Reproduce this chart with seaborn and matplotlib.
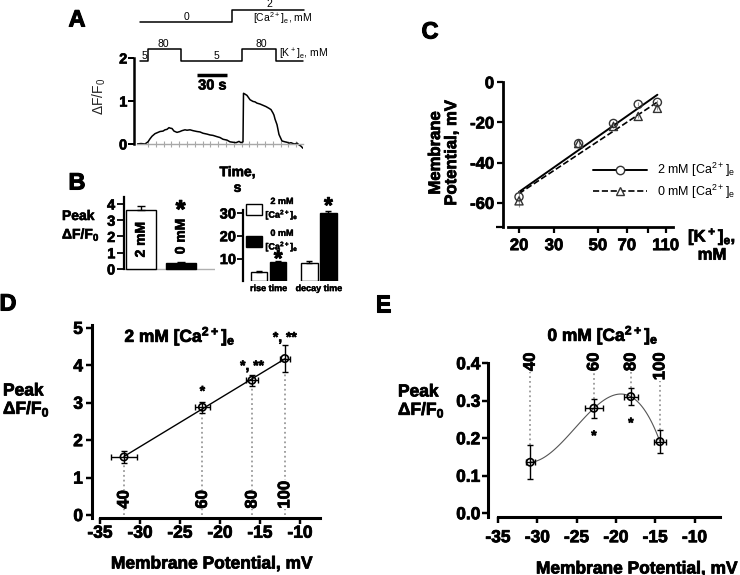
import numpy as np
import pandas as pd
import seaborn as sns
import matplotlib.pyplot as plt
import matplotlib.patheffects as pe
from matplotlib.text import Text
from matplotlib.patches import Patch
from matplotlib.lines import Line2D
from matplotlib.ticker import NullLocator

# ---- A: calcium trace (time, s / peak dF/F0) and bath protocol ----
trace_t = [0, 4, 8, 11, 13, 15, 18, 20, 23, 26, 28, 30, 32, 33, 35, 37, 40, 43, 45, 48,
           50, 53, 56, 60, 63, 66, 70, 73, 76, 80, 83, 86, 90, 93, 96, 99, 102, 104, 106, 106.5,
           108, 110, 113, 116, 118, 120, 123, 126, 129, 132, 134, 135, 136, 137, 138, 140, 142, 145, 148, 150,
           152, 154, 156, 158, 160, 162, 164, 166]
trace_dff = [0.0, 0.01, 0.0, 0.05, 0.12, 0.18, 0.24, 0.26, 0.29, 0.3, 0.33, 0.34, 0.38, 0.37, 0.36, 0.3, 0.27, 0.29, 0.31, 0.33,
             0.32, 0.33, 0.31, 0.29, 0.28, 0.25, 0.23, 0.21, 0.2, 0.17, 0.15, 0.11, 0.09, 0.05, 0.04, 0.03, 0.06, 0.03, 0.05, 1.18,
             1.16, 1.13, 1.03, 0.99, 0.98, 0.95, 0.93, 0.9, 0.87, 0.83, 0.8, 0.76, 0.72, 0.67, 0.58, 0.45, 0.22, 0.07, 0.05, 0.04,
             0.02, 0.03, 0.01, 0.0, 0.02, -0.02, -0.05, -0.1]
k_step_t = [3, 11, 44, 105, 139, 166]
k_step_mM = [5, 80, 5, 80, 5, 5]
ca_step_t = [3, 95, 167]
ca_step_mM = [0, 2, 2]
scalebar_s = 30

# ---- B: peak amplitude and kinetics ----
ca_levels = ["2 mM", "0 mM"]
peak_vals = [3.6, 0.37]
peak_err = [0.28, 0.03]
time_phase = ["rise time", "rise time", "decay time", "decay time"]
time_ca = ["2 mM", "0 mM", "2 mM", "0 mM"]
time_vals = [4.2, 8.6, 7.9, 30.1]
time_err = [0.4, 0.2, 0.8, 0.8]

# ---- C: membrane potential vs [K+]e ----
k_conc = [20, 40, 60, 80, 100]
vm_2ca = [-57, -30.5, -20.5, -11, -10]
vm_2ca_err = [3, 1.5, 1, 1, 1.2]
vm_0ca = [-59, -30.5, -22, -17, -13]
vm_0ca_err = [3, 1, 1, 1, 1]

# ---- D / E: peak dF/F0 vs membrane potential ----
k_labels = ["40", "60", "80", "100"]
vm_d = [-32, -22.2, -16, -11.9]
vm_d_err = [1.6, 0.9, 0.8, 0.6]
peak_d = [1.55, 2.88, 3.6, 4.18]
peak_d_err = [0.17, 0.15, 0.14, 0.37]
stars_d = ["", "*", "*, **", "*, **"]
vm_e = [-30.9, -22.8, -18.1, -14.4]
vm_e_err = [0.6, 1.1, 0.85, 0.75]
peak_e = [0.136, 0.28, 0.311, 0.191]
peak_e_err = [0.045, 0.025, 0.023, 0.03]
stars_e = ["", "*", "*", ""]

sns.set_theme(style="ticks")
plt.rcParams["font.family"] = ["Liberation Sans", "DejaVu Sans"]
plt.rcParams["font.weight"] = "bold"
plt.rcParams["mathtext.default"] = "regular"
plt.rcParams["axes.unicode_minus"] = False
for key in ["axes.edgecolor", "xtick.color", "ytick.color", "text.color"]:
    plt.rcParams[key] = "black"

W, H = 740, 575
fig = plt.figure(figsize=(W / 100, H / 100), dpi=100)
BOLD = {"fontweight": "bold"}


def add_ax(x0, y0, x1, y1):
    # axes placed by pixel box, origin top left
    return fig.add_axes([x0 / W, 1 - y1 / H, (x1 - x0) / W, (y1 - y0) / H])


def ftext(x, y, s, **kw):
    kw.setdefault("ha", "center")
    kw.setdefault("va", "center")
    return fig.text(x / W, 1 - y / H, s, **kw)


def frame(ax, lw, size, tick_len, pad):
    sns.despine(ax=ax)
    for side in ("left", "bottom"):
        ax.spines[side].set_linewidth(lw)
    ax.tick_params(width=lw * 0.8, length=tick_len, labelsize=size, pad=pad, direction="out")
    ax.set_xlabel("")
    ax.set_ylabel("")


def num_labels(vals, fmt="{:g}"):
    return [fmt.format(v) for v in vals]


# ================= A =================
axA = add_ax(137, 0, 303, 150)
sns.lineplot(x=trace_t, y=trace_dff, ax=axA, color="black", lw=1.1, sort=False, estimator=None)
axA.set_xlim(0, 166)
axA.set_ylim(-0.14, 3.35)
frame(axA, 1.8, 10.5, 4, 1)
axA.spines["left"].set_position(("outward", 2))
axA.spines["left"].set_bounds(0, 2)
axA.spines["bottom"].set_position(("data", 0))
axA.spines["bottom"].set_color("#a8a8a8")
axA.spines["bottom"].set_linewidth(1)
axA.set_yticks([0, 1, 2], num_labels([0, 1, 2]), **BOLD)
axA.set_xticks(np.arange(11, 166, 7.8))
axA.tick_params(axis="x", colors="#a8a8a8", length=4, width=0.8, direction="inout", labelbottom=False)
axA.hlines(1.6, 60, 60 + scalebar_s, color="black", lw=2.5)
axA.text(75.5, 1.36, f"{scalebar_s} s", ha="center", va="center", fontsize=10.5)

axK = add_ax(137, 49, 303, 61)
sns.lineplot(x=k_step_t, y=k_step_mM, ax=axK, color="black", lw=1.1, drawstyle="steps-post",
             estimator=None, sort=False)
axK.set_xlim(0, 166)
axK.set_ylim(5, 80)
axK.axis("off")
for lab_t, lab_k in zip([7.5, 26.5, 79, 124.5], k_step_mM[:4]):
    axK.text(lab_t, lab_k, str(lab_k), ha="center", va="bottom", fontsize=7.5, fontweight="normal")
axK.annotate("[K$^+$]$_e$, mM", xy=(142, 5), xytext=(0, 2.5), textcoords="offset points",
             ha="left", va="baseline", fontsize=7.5, fontweight="normal")

axCa = add_ax(137, 10, 303, 22)
sns.lineplot(x=ca_step_t, y=ca_step_mM, ax=axCa, color="black", lw=1.1, drawstyle="steps-post",
             estimator=None, sort=False)
axCa.set_xlim(0, 166)
axCa.set_ylim(0, 2)
axCa.axis("off")
axCa.text(49.5, 0, str(ca_step_mM[0]), ha="center", va="bottom", fontsize=7.5, fontweight="normal")
axCa.annotate(str(ca_step_mM[1]), xy=(132.5, 2), xytext=(0, 0.5), textcoords="offset points",
              ha="center", va="bottom", fontsize=7.5, fontweight="normal")
axCa.annotate("[Ca$^{2+}$]$_e$, mM", xy=(116, 0), xytext=(0, 0), textcoords="offset points",
              ha="left", va="baseline", fontsize=7.5, fontweight="normal")
for a in (axK, axCa):
    for line in a.lines:
        line.set_clip_on(False)

ftext(99, 96, "ΔF/F$_0$", rotation=90, fontsize=10, fontweight="normal", color="#222222")

# ================= B (peak) =================
axB1 = add_ax(125, 190, 215, 272)
axB1.axhline(0, color="#b0b0b0", lw=1, zorder=0)
sns.barplot(x=ca_levels, y=peak_vals, hue=ca_levels, palette=["white", "black"], edgecolor="black",
            linewidth=1, width=0.75, errorbar=None, legend=False, ax=axB1)
axB1.errorbar(x=range(len(ca_levels)), y=peak_vals, yerr=[[0] * len(peak_err), peak_err], fmt="none",
              ecolor="black", elinewidth=1, capsize=3, capthick=1)
axB1.set_xlim(-0.39, 1.86)
axB1.set_ylim(-0.185, 4.86)
frame(axB1, 1.6, 10.5, 5, 1)
axB1.spines["bottom"].set_visible(False)
axB1.spines["left"].set_position(("outward", 1))
axB1.spines["left"].set_bounds(0, 4.45)
axB1.set_xticks([])
axB1.set_yticks(range(5), num_labels(range(5)), **BOLD)
axB1.text(0, 1.8, "2 mM", rotation=90, ha="center", va="center", fontsize=10)
axB1.text(1, 2.0, "0 mM", rotation=90, ha="center", va="center", fontsize=10)
axB1.text(1, 3.6, "*", ha="center", va="center", fontsize=18)
ftext(62, 226, "Peak\nΔF/F$_0$", ha="left", fontsize=10, linespacing=1.2)

# ================= B (kinetics) =================
time_df = pd.DataFrame({"phase": time_phase, "ca": time_ca, "t": time_vals, "err": time_err})
axB2 = add_ax(243, 190, 345, 281.3)
sns.barplot(data=time_df, x="phase", y="t", hue="ca", hue_order=ca_levels, palette=["white", "black"],
            edgecolor="black", linewidth=1, width=0.76, gap=0.14, errorbar=None, legend=False, ax=axB2)
black_x = []
for cont, level in zip(axB2.containers, ca_levels):
    sub = time_df[time_df["ca"] == level]
    xs = [b.get_x() + b.get_width() / 2 for b in cont]
    axB2.errorbar(xs, sub["t"], yerr=[np.zeros(len(sub)), sub["err"]], fmt="none", ecolor="black",
                  elinewidth=1, capsize=2, capthick=1)
    black_x = xs
axB2.text(black_x[0], 9.3, "*", ha="center", va="center", fontsize=16)
axB2.text(black_x[1], 32.6, "*", ha="center", va="center", fontsize=16)
axB2.set_xlim(-0.51, 1.52)
axB2.set_ylim(0, 40.1)
frame(axB2, 1.6, 10.5, 4, 1)
axB2.spines["bottom"].set_visible(False)
axB2.spines["left"].set_bounds(0, 31.3)
axB2.set_yticks([10, 20, 30], num_labels([10, 20, 30]), **BOLD)
axB2.set_xticks(range(2), ["rise time", "decay time"], **BOLD)
axB2.tick_params(axis="x", length=0, pad=2, labelsize=6.5)
handles = [Patch(facecolor=c, edgecolor="black", lw=1) for c in ["white", "black"]]
labels = [f"{c}\n[Ca$^{{2+}}$]$_e$" for c in ca_levels]
leg = axB2.legend(handles, labels, loc="upper left", bbox_to_anchor=(246 / W, 1 - 197 / H),
                  bbox_transform=fig.transFigure, frameon=False, fontsize=6.5, handlelength=1.8,
                  handleheight=1.45, handletextpad=0.35, labelspacing=0.8, borderpad=0, borderaxespad=0)
for t in leg.get_texts():
    t.set_multialignment("center")
ftext(237.5, 180, "Time,\ns", fontsize=10, linespacing=1.15)

# ================= C =================
axC = add_ax(503, 75, 673, 227)
axC.set_xscale("log")
sns.regplot(x=k_conc, y=vm_2ca, logx=True, ci=None, scatter=False, color="black",
            line_kws={"lw": 1.4}, ax=axC)
sns.regplot(x=k_conc, y=vm_0ca, logx=True, ci=None, scatter=False, color="black",
            line_kws={"lw": 1.2, "ls": "--"}, ax=axC)
axC.errorbar(k_conc, vm_2ca, yerr=vm_2ca_err, fmt="none", ecolor="#999999", elinewidth=0.8)
axC.errorbar(k_conc, vm_0ca, yerr=vm_0ca_err, fmt="none", ecolor="#999999", elinewidth=0.8)
sns.scatterplot(x=k_conc, y=vm_2ca, marker="o", s=34, facecolor="none", edgecolor="#333333",
                linewidth=1, ax=axC, zorder=4)
sns.scatterplot(x=k_conc, y=vm_0ca, marker="^", s=34, facecolor="none", edgecolor="#333333",
                linewidth=1, ax=axC, zorder=4)
axC.set_xlim(16.6, 119.9)
axC.set_ylim(-71.9, 3.6)
frame(axC, 2, 12, 4.5, 3.5)
axC.spines["left"].set_bounds(-72, 0)
axC.spines["bottom"].set_bounds(17.6, 120)
axC.xaxis.set_minor_locator(NullLocator())
axC.set_xticks([20, 30, 50, 70, 90, 110], ["20", "30", "50", "70", "", "110"], **BOLD)
axC.set_yticks([0, -20, -40, -60], num_labels([0, -20, -40, -60]), **BOLD)
axC.set_yticks([-72], minor=True)
axC.tick_params(axis="y", which="minor", length=5, width=1.6)
axC.tick_params(axis="y", pad=2)
c_handles = [Line2D([], [], color="black", lw=1.4, marker="o", mfc="white", mec="#333333", ms=6),
             Line2D([], [], color="black", lw=1.2, ls="--", marker="^", mfc="white", mec="#333333", ms=6)]
axC.legend(c_handles, ["2 mM [Ca$^{2+}$]$_e$", "0 mM [Ca$^{2+}$]$_e$"], loc="upper left",
           bbox_to_anchor=(593 / W, 1 - 161 / H), bbox_transform=fig.transFigure, frameon=False,
           prop={"size": 9, "weight": "normal"}, handlelength=4.3, handletextpad=0.8,
           labelspacing=0.25, borderpad=0, borderaxespad=0)
ftext(443.5, 153, "Membrane\nPotential, mV", rotation=90, fontsize=12, multialignment="center",
      linespacing=1.1)
ftext(712, 244, "[K$^+$]$_e$,\nmM", fontsize=12, multialignment="center", linespacing=1.0)

# ================= D =================
axD = add_ax(92, 320, 320, 518)
axD.vlines(vm_d, 0, np.array(peak_d) - np.array(peak_d_err), colors="#9a9a9a", linestyles=":", lw=1.3)
sns.regplot(x=vm_d, y=peak_d, ci=None, scatter=False, color="black", line_kws={"lw": 1}, ax=axD)
axD.errorbar(vm_d, peak_d, xerr=vm_d_err, yerr=peak_d_err, fmt="none", ecolor="black",
             elinewidth=1, capsize=2.5, capthick=1)
sns.scatterplot(x=vm_d, y=peak_d, marker="o", s=28, facecolor="none", edgecolor="black",
                linewidth=1.2, ax=axD, zorder=4)
for v, lab, st, y in zip(vm_d, k_labels, stars_d, [0, 3.3, 3.98, 4.74]):
    axD.text(v, 0.17, lab, rotation=90, ha="center", va="bottom", fontsize=12,
             bbox=dict(facecolor="white", edgecolor="none", pad=0.5))
    if st:
        axD.text(v, y, st, ha="center", va="center", fontsize=10)
axD.set_xlim(-36, -7.5)
axD.set_ylim(-0.08, 5.21)
frame(axD, 2.2, 12.5, 4.5, 1)
axD.tick_params(axis="y", pad=2)
axD.spines["left"].set_bounds(-0.08, 5.08)
axD.spines["bottom"].set_bounds(-35, -7.5)
axD.set_yticks(range(6), num_labels(range(6)), **BOLD)
axD.set_xticks(range(-35, -5, 5), num_labels(range(-35, -5, 5)), **BOLD)
ftext(180, 336, "2 mM [Ca$^{2+}$]$_e$", fontsize=12.5)
ftext(3, 401, "Peak\nΔF/F$_0$", ha="left", fontsize=12.5, linespacing=1.1)
ftext(212, 564, "Membrane Potential, mV", fontsize=12.5)

# ================= E =================
axE = add_ax(488, 340, 720, 517)
axE.vlines(vm_e, np.array(peak_e) + np.array(peak_e_err), 0.425, colors="#9a9a9a", linestyles=":", lw=1.3)
sns.regplot(x=vm_e, y=peak_e, order=3, ci=None, scatter=False, color="#555555",
            line_kws={"lw": 0.8}, ax=axE)
axE.errorbar(vm_e, peak_e, xerr=vm_e_err, yerr=peak_e_err, fmt="none", ecolor="black",
             elinewidth=1, capsize=2.5, capthick=1)
sns.scatterplot(x=vm_e, y=peak_e, marker="o", s=28, facecolor="none", edgecolor="black",
                linewidth=1.2, ax=axE, zorder=4)
for v, lab, st, y in zip(vm_e, k_labels, stars_e, [0, 0.206, 0.24, 0]):
    axE.text(v, 0.428, lab, rotation=90, ha="center", va="top", fontsize=12,
             bbox=dict(facecolor="white", edgecolor="none", pad=0.5))
    if st:
        axE.text(v, y, st, ha="center", va="center", fontsize=10)
axE.set_xlim(-36.27, -6.76)
axE.set_ylim(-0.01, 0.462)
frame(axE, 2.2, 12.5, 4.5, 5)
axE.tick_params(axis="y", pad=1)
axE.spines["left"].set_bounds(-0.01, 0.4)
axE.spines["bottom"].set_bounds(-35, -6.8)
e_yt = [0, 0.1, 0.2, 0.3, 0.4]
axE.set_yticks(e_yt, num_labels(e_yt, "{:.1f}"), **BOLD)
axE.set_xticks(range(-35, -5, 5), num_labels(range(-35, -5, 5)), **BOLD)
ftext(603, 335, "0 mM [Ca$^{2+}$]$_e$", fontsize=12.5)
ftext(398, 402, "Peak\nΔF/F$_0$", ha="left", fontsize=12.5, linespacing=1.1)
ftext(637, 569, "Membrane Potential, mV", fontsize=12.5)

# panel letters
for letter, (px, py) in zip("ABCDE", [(77, 20), (77, 183), (430, 32), (8, 304), (383, 305)]):
    ftext(px, py, letter, fontsize=17)

# the original lettering is heavier than Liberation Sans Bold: thicken bold texts a little
for txt in fig.findobj(Text):
    if txt.get_text() and txt.get_fontweight() not in ("normal", 400):
        stroke = 0.045 * txt.get_fontsize()
        txt.set_path_effects([pe.withStroke(linewidth=stroke, foreground="black")])

fig.savefig("out.png", dpi=100)
